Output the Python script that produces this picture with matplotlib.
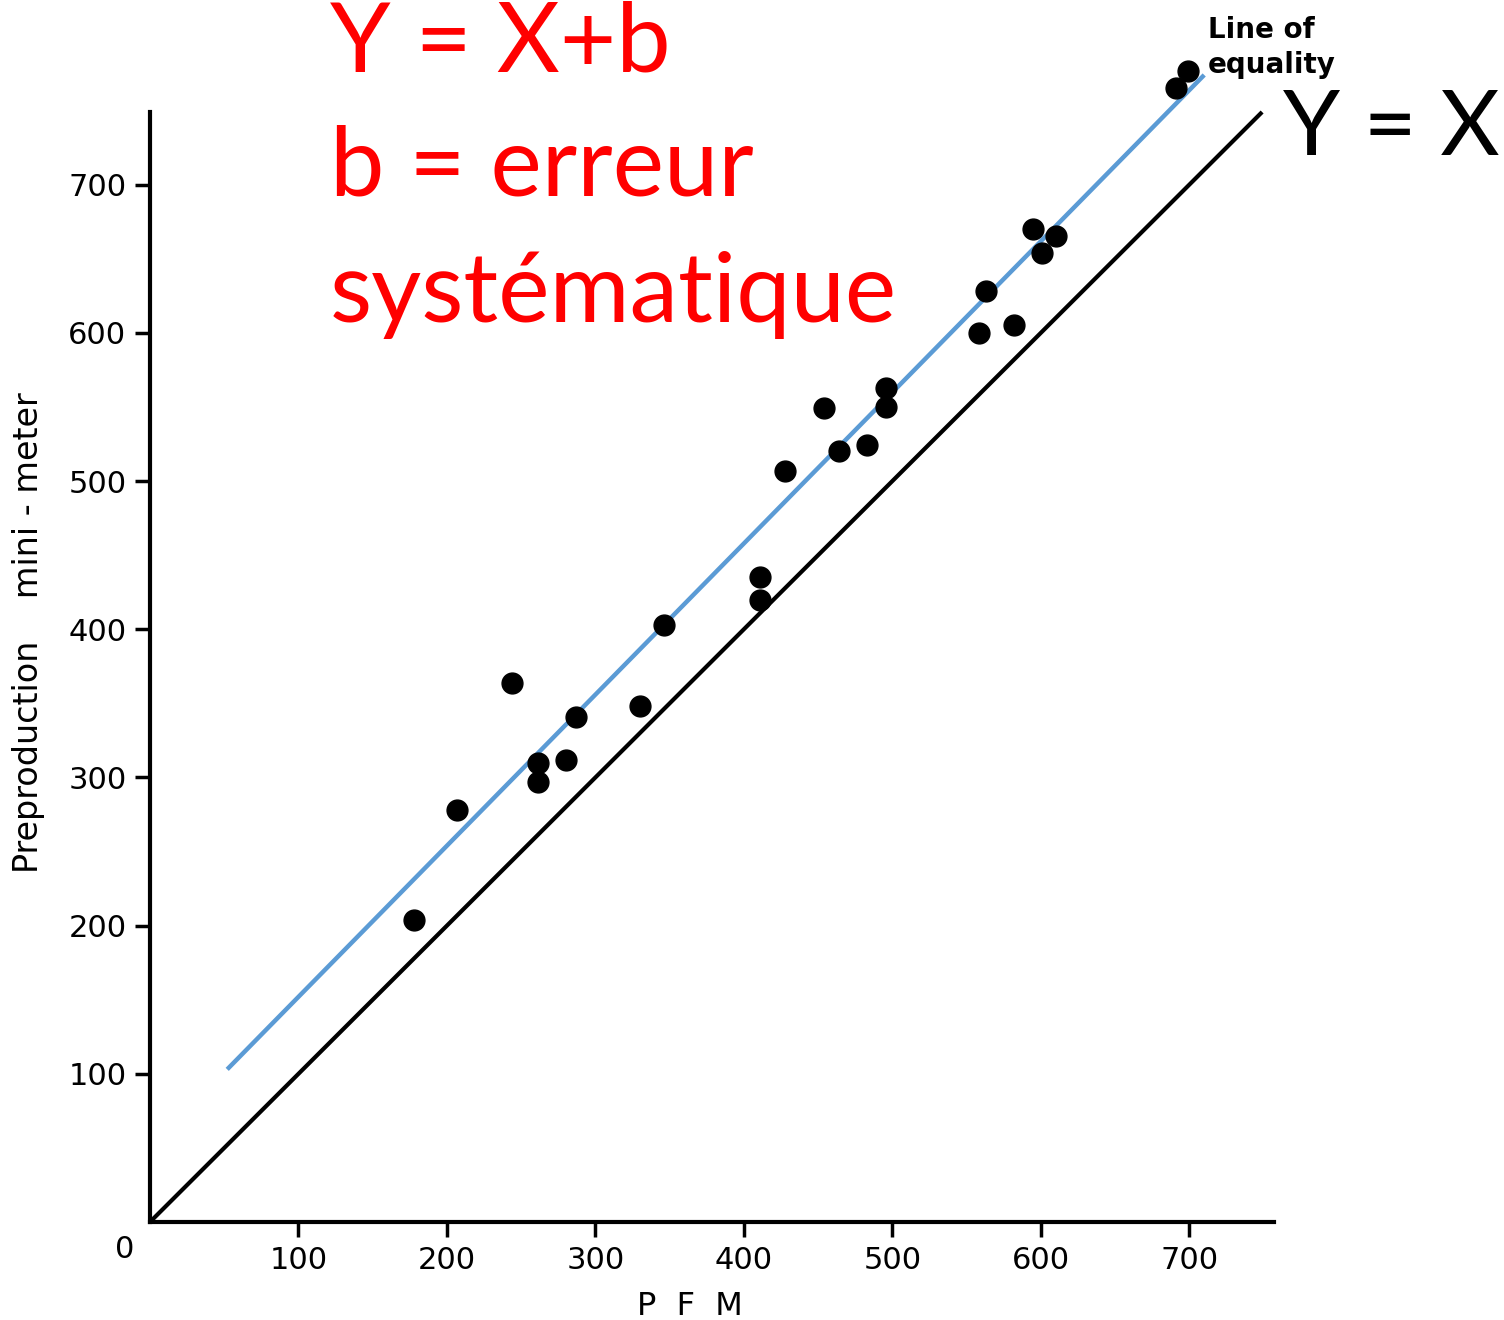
import matplotlib.pyplot as plt

# measured points (PFM vs mini-meter)
pfm = [178, 207, 244, 261, 261, 280, 287, 330, 346, 411, 411, 428,
       454, 464, 483, 496, 496, 558, 563, 582, 595, 601, 610, 691, 699]
mini = [204, 278, 364, 310, 297, 312, 341, 348, 403, 435, 420, 507,
        549, 520, 524, 563, 550, 600, 628, 605, 670, 654, 665, 765, 777]

# line of equality and shifted line (Y = X + b)
eq_x = [0, 749]
eq_y = [0, 749]
fit_x = [52, 710]
fit_y = [103, 774]

ticks = [100, 200, 300, 400, 500, 600, 700]

W, H = 1504, 1320
fig = plt.figure(figsize=(W / 100, H / 100), dpi=100)
ax = fig.add_axes([150 / W, 1 - 1222 / H, 1124 / W, 1110 / H])

ax.plot(eq_x, eq_y, color="black", lw=3, solid_capstyle="butt", clip_on=False)
ax.plot(fit_x, fit_y, color="#5B9BD5", lw=3.2, solid_capstyle="butt",
        clip_on=False)
ax.plot(pfm, mini, "o", color="black", markersize=15, zorder=3, clip_on=False)

ax.set_xlim(0, 757)
ax.set_ylim(0, 749)
ax.set_xticks(ticks)
ax.set_yticks(ticks)
ax.tick_params(length=11, width=2.5, labelsize=22, pad=6)
for s in ["top", "right"]:
    ax.spines[s].set_visible(False)
for s in ["left", "bottom"]:
    ax.spines[s].set_linewidth(3)

ax.set_xlabel("P  F  M", fontsize=23)
ax.xaxis.set_label_coords(0.48, -0.062)
ax.set_ylabel("Preproduction    mini - meter", fontsize=24)
ax.yaxis.set_label_coords(-0.093, 0.531)
ax.text(-0.014, -0.012, "0", transform=ax.transAxes, fontsize=22,
        ha="right", va="top")

# annotations
fig.text(1208 / W, 1 - 16 / H, "Line of\nequality", fontsize=20,
         fontweight="bold", ha="left", va="top", linespacing=1.3)
fig.text(1500 / W, 1 - 155 / H, "Y = X", fontsize=66, ha="right",
         va="baseline", family="Lato")
fig.text(330 / W, 1 - 72 / H, "Y = X+b", fontsize=70, color="red",
         family="Lato", va="baseline")
fig.text(330 / W, 1 - 195 / H, "b = erreur", fontsize=70, color="red",
         family="Lato", va="baseline")
fig.text(330 / W, 1 - 322 / H, "systématique", fontsize=70, color="red",
         family="Lato", va="baseline")

fig.savefig("out.png", dpi=100)
